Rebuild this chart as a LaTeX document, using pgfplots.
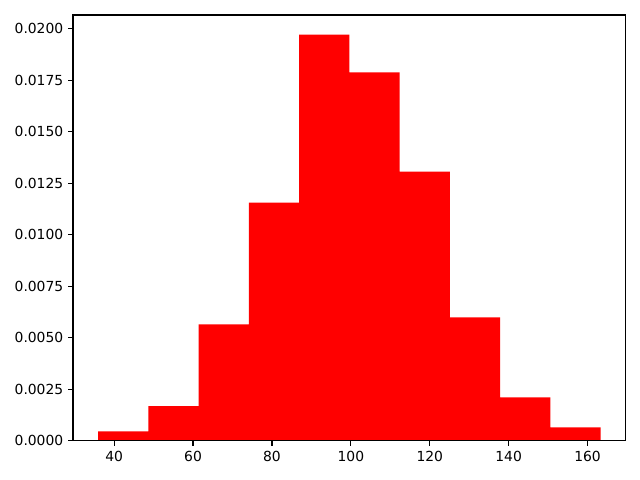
\documentclass[border=0pt]{standalone}
\usepackage{fontspec}
\setmainfont{DejaVu Sans}
\usepackage{pgfplots}
\pgfplotsset{compat=1.18}
\begin{document}
\begin{tikzpicture}
\begin{axis}[
  at={(0,0)}, anchor=south west,
  scale only axis,
  width=398.2pt, height=306.7pt,
  xmin=29.57, xmax=169.67,
  ymin=0, ymax=0.020665,
  xtick={40,60,80,100,120,140,160},
  ytick={0,0.0025,0.005,0.0075,0.01,0.0125,0.015,0.0175,0.02},
  scaled y ticks=false,
  yticklabel style={/pgf/number format/.cd, fixed, fixed zerofill, precision=4},
  /pgf/number format/assume math mode=true,
  tick pos=left,
  tick align=outside,
  major tick length=3.5pt,
  axis line style={line width=0.8pt},
  every tick/.style={line width=0.8pt, black},
  tick label style={font=\fontsize{10}{12}\selectfont},
  xticklabel style={yshift=-0.5pt},
  axis on top,
]
\addplot[ybar interval, fill=red, draw=none] coordinates {
(35.94,0.00045)
(48.68,0.00168)
(61.42,0.00565)
(74.16,0.01156)
(86.90,0.01971)
(99.64,0.01788)
(112.38,0.01306)
(125.12,0.00598)
(137.86,0.00210)
(150.60,0.00065)
(163.34,0.00065)
};
\end{axis}
\path[use as bounding box] (-52.6pt,-28.1pt) rectangle (408.5pt,317.5pt);
\end{tikzpicture}
\end{document}
